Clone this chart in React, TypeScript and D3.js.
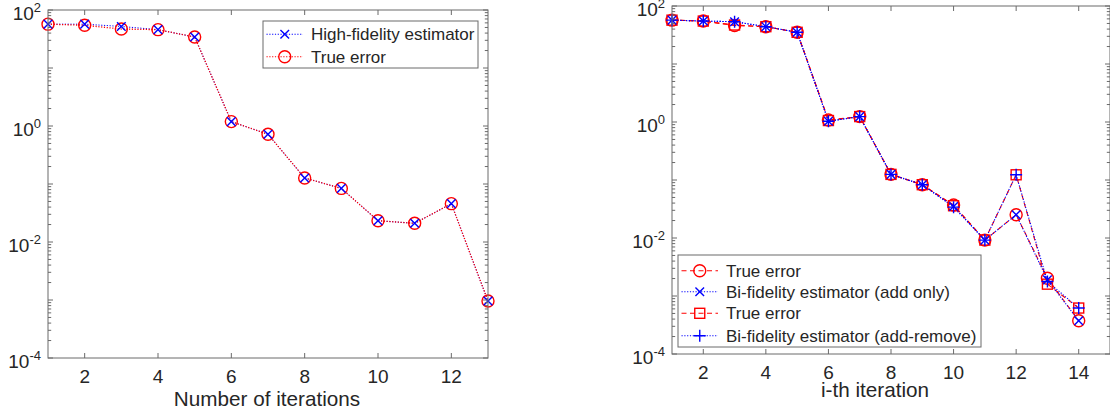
import React from 'react';
import * as d3 from 'd3';

// ---------- data ----------
const leftIterations = [1, 2, 3, 4, 5, 6, 7, 8, 9, 10, 11, 12, 13];
const leftHighFidelity = [57, 57, 52, 45.8, 34.2, 1.19, 0.72, 0.127, 0.084, 0.0233, 0.021, 0.0458, 0.00096];
const leftTrueError = [57, 54.5, 47, 45.8, 34.2, 1.19, 0.72, 0.127, 0.084, 0.0233, 0.021, 0.0458, 0.00096];
const leftXTicks = [2, 4, 6, 8, 10, 12];

const rightIterations = [1, 2, 3, 4, 5, 6, 7, 8, 9, 10, 11, 12, 13, 14];
const rightTrueAddOnly = [57, 55, 46, 44, 35.2, 1.08, 1.24, 0.125, 0.083, 0.037, 0.0092, 0.0252, 0.00202, 0.000375];
const rightEstAddOnly = [57, 55, 53.6, 44, 35.2, 1.03, 1.24, 0.125, 0.083, 0.035, 0.0092, 0.0252, 0.0019, 0.000375];
const rightTrueAddRemove = [57, 55, 47, 44, 35.2, 1.06, 1.24, 0.125, 0.083, 0.036, 0.0092, 0.123, 0.0016, 0.00062];
const rightEstAddRemove = [57, 55, 53.6, 44, 35.2, 1.03, 1.24, 0.125, 0.083, 0.034, 0.0092, 0.123, 0.00178, 0.00062];
const rightXTicks = [2, 4, 6, 8, 10, 12, 14];

const yTickExponents = [2, 0, -2, -4];

const leftLabels = ['High-fidelity estimator', 'True error'];
const rightLabels = ['True error', 'Bi-fidelity estimator (add only)', 'True error', 'Bi-fidelity estimator (add-remove)'];

// ---------- style ----------
const FONT = '"Liberation Sans", Arial, Helvetica, sans-serif';
const TEXT = '#262626';
const AXIS = '#6a6a6a';
const RED = '#ff0000';
const BLUE = '#0000ff';
const DOT = '1.2,1.6';
const DASH = '5,3.5';

type MarkerKind = 'circle' | 'x' | 'square' | 'plus';

function Marker({ kind, x, y, color }: { kind: MarkerKind; x: number; y: number; color: string }) {
  const sw = 1.4;
  if (kind === 'circle') return <circle cx={x} cy={y} r={6} fill="none" stroke={color} strokeWidth={sw} />;
  if (kind === 'square') return <rect x={x - 5} y={y - 5} width={10} height={10} fill="none" stroke={color} strokeWidth={sw} />;
  if (kind === 'plus')
    return (
      <path d={`M${x - 6},${y}H${x + 6}M${x},${y - 6}V${y + 6}`} stroke={color} strokeWidth={sw} fill="none" />
    );
  return (
    <path d={`M${x - 4.3},${y - 4.3}L${x + 4.3},${y + 4.3}M${x - 4.3},${y + 4.3}L${x + 4.3},${y - 4.3}`} stroke={color} strokeWidth={sw} fill="none" />
  );
}

type Series = { xs: number[]; ys: number[]; color: string; dash: string; marker: MarkerKind; width: number };

function Panel(props: {
  x0: number; x1: number; y0: number; y1: number;
  xDomain: [number, number];
  xTicks: number[];
  series: Series[];
  drawOrder: number[];
  markerOrder: number[];
  xLabel: string; xLabelX: number; xLabelY: number;
  legend: { x: number; y: number; w: number; h: number; rowY: number[]; labels: string[] };
}) {
  const { x0, x1, y0, y1, xDomain, xTicks, series, legend } = props;
  const xs = d3.scaleLinear().domain(xDomain).range([x0, x1]);
  const ys = d3.scaleLog().domain([1e-4, 1e2]).range([y1, y0]);
  const line = (s: Series) =>
    d3.line<number>().x((_, i) => xs(s.xs[i])).y((v) => ys(v))(s.ys) || '';

  const minor: number[] = [];
  for (let e = -4; e < 2; e++) for (let k = 2; k <= 9; k++) minor.push(k * Math.pow(10, e));
  const major = [-4, -3, -2, -1, 0, 1, 2].map((e) => Math.pow(10, e));

  const majLen = 5;
  const minLen = 3.2;
  return (
    <g>
      <rect x={x0} y={y0} width={x1 - x0} height={y1 - y0} fill="#fff" />
      {props.drawOrder.map((i) => (
        <path key={'l' + i} d={line(series[i])} fill="none" stroke={series[i].color} strokeWidth={series[i].width} strokeDasharray={series[i].dash} />
      ))}
      {props.markerOrder.map((i) =>
        series[i].ys.map((v, j) => (
          <Marker key={`m${i}-${j}`} kind={series[i].marker} x={xs(series[i].xs[j])} y={ys(v)} color={series[i].color} />
        ))
      )}
      <rect x={x0} y={y0} width={x1 - x0} height={y1 - y0} fill="none" stroke={AXIS} strokeWidth={1} />
      {xTicks.map((t) => (
        <g key={'xt' + t}>
          <line x1={xs(t)} x2={xs(t)} y1={y1} y2={y1 - majLen} stroke={AXIS} />
          <line x1={xs(t)} x2={xs(t)} y1={y0} y2={y0 + majLen} stroke={AXIS} />
          <text x={xs(t)} y={y1 + 25} textAnchor="middle" fontSize={19} fill={TEXT} fontFamily={FONT}>{t}</text>
        </g>
      ))}
      {major.map((v, i) => (
        <g key={'ym' + i}>
          <line x1={x0} x2={x0 + majLen} y1={ys(v)} y2={ys(v)} stroke={AXIS} />
          <line x1={x1} x2={x1 - majLen} y1={ys(v)} y2={ys(v)} stroke={AXIS} />
        </g>
      ))}
      {minor.map((v, i) => (
        <g key={'yn' + i}>
          <line x1={x0} x2={x0 + minLen} y1={ys(v)} y2={ys(v)} stroke={AXIS} />
          <line x1={x1} x2={x1 - minLen} y1={ys(v)} y2={ys(v)} stroke={AXIS} />
        </g>
      ))}
      {yTickExponents.map((e) => (
        <text key={'yl' + e} x={x0 - 7} y={ys(Math.pow(10, e)) + 10} textAnchor="end" fill={TEXT} fontFamily={FONT} fontSize={19}>
          <tspan>10</tspan>
          <tspan dy={-8} fontSize={13}>{String(e)}</tspan>
        </text>
      ))}
      <text x={props.xLabelX} y={props.xLabelY} textAnchor="middle" fontSize={20.7} fill={TEXT} fontFamily={FONT}>{props.xLabel}</text>
      <rect x={legend.x} y={legend.y} width={legend.w} height={legend.h} fill="#fff" stroke={AXIS} strokeWidth={1} />
      {legend.labels.map((lab, i) => {
        const s = series[i];
        const ly = legend.rowY[i];
        const lx0 = legend.x + 3.5;
        const lx1 = legend.x + 40;
        return (
          <g key={'lg' + i}>
            <line x1={lx0} x2={lx1} y1={ly} y2={ly} stroke={s.color} strokeWidth={1.1} strokeDasharray={s.dash} />
            <Marker kind={s.marker} x={(lx0 + lx1) / 2} y={ly} color={s.color} />
            <text x={legend.x + 48} y={ly + 6} fontSize={17} fill={TEXT} fontFamily={FONT}>{lab}</text>
          </g>
        );
      })}
    </g>
  );
}

export default function App() {
  const leftSeries: Series[] = [
    { xs: leftIterations, ys: leftHighFidelity, color: BLUE, dash: DOT, marker: 'x', width: 1.0 },
    { xs: leftIterations, ys: leftTrueError, color: RED, dash: DOT, marker: 'circle', width: 1.3 },
  ];
  const rightSeries: Series[] = [
    { xs: rightIterations, ys: rightTrueAddOnly, color: RED, dash: DASH, marker: 'circle', width: 1.1 },
    { xs: rightIterations, ys: rightEstAddOnly, color: BLUE, dash: DOT, marker: 'x', width: 1.1 },
    { xs: rightIterations, ys: rightTrueAddRemove, color: RED, dash: DASH, marker: 'square', width: 1.1 },
    { xs: rightIterations, ys: rightEstAddRemove, color: BLUE, dash: DOT, marker: 'plus', width: 1.1 },
  ];
  return (
    <svg width={1110} height={414} style={{ position: 'absolute', left: 0, top: 0, background: '#fff' }}>
      <rect x={0} y={0} width={1110} height={414} fill="#fff" />
      <Panel
        x0={48} x1={488} y0={10} y1={358}
        xDomain={[1, 13]}
        xTicks={leftXTicks}
        series={leftSeries}
        drawOrder={[0, 1]}
        markerOrder={[1, 0]}
        xLabel="Number of iterations" xLabelX={267} xLabelY={406}
        legend={{ x: 263, y: 21, w: 215, h: 47, rowY: [34.3, 56.7], labels: leftLabels }}
      />
      <Panel
        x0={672} x1={1110} y0={6} y1={354}
        xDomain={[1, 15]}
        xTicks={rightXTicks}
        series={rightSeries}
        drawOrder={[0, 2, 1, 3]}
        markerOrder={[0, 2, 1, 3]}
        xLabel="i-th iteration" xLabelX={875} xLabelY={397}
        legend={{ x: 678, y: 255, w: 303, h: 92, rowY: [270.7, 291.7, 313.3, 335.7], labels: rightLabels }}
      />
    </svg>
  );
}
